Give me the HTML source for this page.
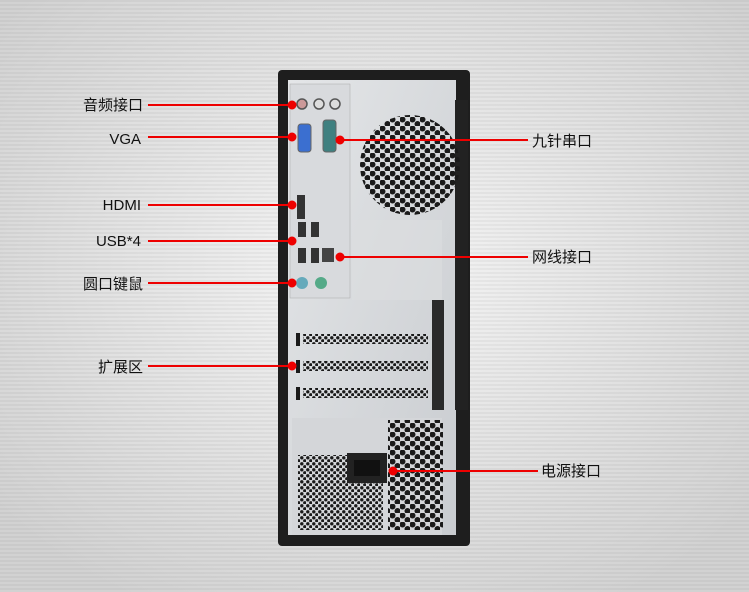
<!DOCTYPE html>
<html><head><meta charset="utf-8"><style>
html,body{margin:0;padding:0;width:749px;height:592px;overflow:hidden}
svg{display:block}
text{font-family:"Liberation Sans","Noto Sans CJK SC",sans-serif;font-size:15px;fill:#111}
</style></head><body>
<svg width="749" height="592" viewBox="0 0 749 592" xmlns="http://www.w3.org/2000/svg">
<defs>
<radialGradient id="bg" cx="50%" cy="45%" r="65%">
<stop offset="0" stop-color="#f6f6f6"/><stop offset="1" stop-color="#d2d2d2"/>
</radialGradient>
<pattern id="stripe" width="749" height="4" patternUnits="userSpaceOnUse">
<rect width="749" height="2" fill="#000" opacity="0.04"/>
</pattern>
<pattern id="hex" width="10" height="9" patternUnits="userSpaceOnUse">
<circle cx="2.5" cy="2.5" r="3" fill="#1a1a1a"/><circle cx="7.5" cy="7" r="3" fill="#1a1a1a"/>
</pattern>
<pattern id="hex2" width="6" height="6" patternUnits="userSpaceOnUse">
<circle cx="1.8" cy="1.8" r="1.7" fill="#1a1a1a"/><circle cx="4.8" cy="4.8" r="1.7" fill="#1a1a1a"/>
</pattern>
<linearGradient id="metal" x1="0" y1="0" x2="1" y2="1">
<stop offset="0" stop-color="#e4e6e8"/><stop offset="1" stop-color="#c9ccd0"/>
</linearGradient>
</defs>
<rect width="749" height="592" fill="url(#bg)"/>
<rect width="749" height="592" fill="url(#stripe)"/>

<rect x="278" y="70" width="192" height="476" rx="4" fill="#1e1e1e"/>
<rect x="288" y="80" width="168" height="458" fill="url(#metal)"/>
<rect x="455" y="100" width="13" height="310" fill="#222"/>
<rect x="432" y="300" width="12" height="110" fill="#2a2a2a"/>
<rect x="290" y="84" width="60" height="214" fill="#d8dadd" stroke="#aaa" stroke-width="0.5"/>
<circle cx="410" cy="165" r="50" fill="url(#hex)"/>
<rect x="352" y="220" width="90" height="80" fill="#dcdee0" opacity="0.6"/>
<circle cx="302" cy="104" r="5" fill="#c99" stroke="#555" stroke-width="1.5"/>
<circle cx="319" cy="104" r="5" fill="#ddd" stroke="#555" stroke-width="1.5"/>
<circle cx="335" cy="104" r="5" fill="#ddd" stroke="#555" stroke-width="1.5"/>
<rect x="298" y="124" width="13" height="28" rx="3" fill="#3b6fd0" stroke="#666"/>
<rect x="323" y="120" width="13" height="32" rx="3" fill="#3f8080" stroke="#666"/>
<rect x="297" y="195" width="8" height="24" fill="#333"/>
<rect x="298" y="222" width="8" height="15" fill="#333"/><rect x="311" y="222" width="8" height="15" fill="#333"/>
<rect x="298" y="248" width="8" height="15" fill="#333"/><rect x="311" y="248" width="8" height="15" fill="#333"/>
<rect x="322" y="248" width="12" height="14" fill="#444"/>
<circle cx="302" cy="283" r="6" fill="#6ab"/><circle cx="321" cy="283" r="6" fill="#5a8"/>
<g fill="#1a1a1a">
<rect x="296" y="333" width="4" height="13"/><rect x="296" y="360" width="4" height="13"/><rect x="296" y="387" width="4" height="13"/>
<rect x="303" y="334" width="125" height="10" fill="url(#hex2)"/>
<rect x="303" y="361" width="125" height="10" fill="url(#hex2)"/>
<rect x="303" y="388" width="125" height="10" fill="url(#hex2)"/>
</g>
<rect x="292" y="418" width="150" height="118" fill="#d4d6d9"/>
<rect x="298" y="455" width="85" height="75" fill="url(#hex2)"/>
<rect x="388" y="420" width="55" height="110" fill="url(#hex)"/>
<rect x="347" y="453" width="40" height="30" fill="#222"/>
<rect x="354" y="460" width="26" height="16" fill="#111"/>
<rect x="288" y="535" width="168" height="10" fill="#1e1e1e"/>

<g stroke="#e00" stroke-width="2" fill="#e00">
<line x1="148" y1="105" x2="292" y2="105"/><circle cx="292" cy="105" r="3.5"/>
<line x1="148" y1="137" x2="292" y2="137"/><circle cx="292" cy="137" r="3.5"/>
<line x1="148" y1="205" x2="292" y2="205"/><circle cx="292" cy="205" r="3.5"/>
<line x1="148" y1="241" x2="292" y2="241"/><circle cx="292" cy="241" r="3.5"/>
<line x1="148" y1="283" x2="292" y2="283"/><circle cx="292" cy="283" r="3.5"/>
<line x1="148" y1="366" x2="292" y2="366"/><circle cx="292" cy="366" r="3.5"/>
<line x1="340" y1="140" x2="528" y2="140"/><circle cx="340" cy="140" r="3.5"/>
<line x1="340" y1="257" x2="528" y2="257"/><circle cx="340" cy="257" r="3.5"/>
<line x1="393" y1="471" x2="538" y2="471"/><circle cx="393" cy="471" r="3.5"/>
</g>
<g text-anchor="end">
<text x="143" y="110">音频接口</text>
<text x="141" y="144">VGA</text>
<text x="141" y="210">HDMI</text>
<text x="141" y="246">USB*4</text>
<text x="143" y="289">圆口键鼠</text>
<text x="143" y="372">扩展区</text>
</g>
<text x="532" y="146">九针串口</text>
<text x="532" y="262">网线接口</text>
<text x="541" y="476">电源接口</text>
</svg>
</body></html>
